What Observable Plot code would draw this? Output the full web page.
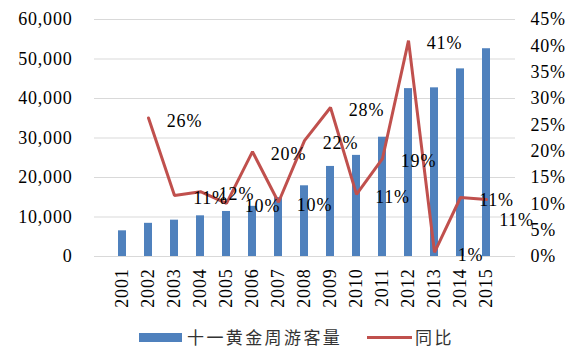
<!DOCTYPE html>
<html>
<head>
<meta charset="utf-8">
<script src="https://cdn.jsdelivr.net/npm/d3@7"></script>
<script src="https://cdn.jsdelivr.net/npm/@observablehq/plot@0.6"></script>
<style>
  html, body { margin: 0; padding: 0; background: #fff; }
  #wrap { width: 588px; position: relative; }
  #wrap svg, #wrap svg text { font-family: "Liberation Serif", "Times New Roman", serif !important; }
  #legend { position: relative; width: 588px; height: 37px; font-family: "Noto Sans CJK SC", sans-serif; font-size: 17px; letter-spacing: 2.4px; color: #333; }
  #legend .sw { position: absolute; }
  #legend .lb { position: absolute; top: 7px; line-height: 24px; white-space: nowrap; }
</style>
</head>
<body>
<div id="wrap"></div>
<div id="legend">
  <div class="sw" style="left:139px; top:15px; width:43px; height:9px; background:#4F81BD;"></div>
  <div class="lb" style="left:187px;">十一黄金周游客量</div>
  <div class="sw" style="left:367px; top:18px; width:45px; height:3px; background:#C0504D;"></div>
  <div class="lb" style="left:415px;">同比</div>
</div>
<script>
const years = ["2001","2002","2003","2004","2005","2006","2007","2008","2009","2010","2011","2012","2013","2014","2015"];
const visitors = [6500, 8400, 9200, 10300, 11400, 12700, 14900, 17900, 22800, 25600, 30200, 42500, 42700, 47500, 52600];
const growthYears = ["2002","2003","2004","2005","2006","2007","2008","2009","2010","2011","2012","2013","2014","2015"];
const growth = [26.3, 11.6, 12.3, 10.1, 19.9, 10.3, 22.0, 28.3, 11.8, 18.6, 41.0, 0.8, 11.2, 10.8];
const growthLabels = ["26%","11%","12%","10%","20%","10%","22%","28%","11%","19%","41%","1%","11%","11%"];
const leftTicks = [0, 10000, 20000, 30000, 40000, 50000, 60000];
const rightTicks = [0, 5, 10, 15, 20, 25, 30, 35, 40, 45];

const leftMax = 60000, rightMax = 45;
const k = leftMax / rightMax;

const barData = years.map((y, i) => ({year: y, value: visitors[i]}));
const lineData = growthYears.map((y, i) => ({year: y, pct: growth[i], label: growthLabels[i]}));

const chart = Plot.plot({
  width: 588,
  height: 318,
  marginTop: 19,
  marginBottom: 62,
  marginLeft: 94,
  marginRight: 73,
  x: {domain: years, padding: 0.68, label: null},
  y: {domain: [0, leftMax], label: null},
  style: {fontFamily: "'Liberation Serif', serif", fontSize: "18px", color: "#000", background: "#fff", letterSpacing: "0.8px"},
  marks: [
    Plot.gridY(leftTicks, {stroke: "#D9D9D9", strokeOpacity: 1}),
    Plot.barY(barData, {x: "year", y: "value", fill: "#4F81BD"}),
    Plot.line(lineData, {x: "year", y: d => d.pct * k, stroke: "#C0504D", strokeWidth: 3, strokeLinejoin: "miter"}),
    Plot.text(lineData.slice(0, -1), {x: "year", y: d => d.pct * k, text: "label", dx: 36, dy: 3, fill: "#000"}),
    Plot.text(lineData.slice(-1), {x: "year", y: d => d.pct * k, text: "label", dx: 30, dy: 21, fill: "#000"}),
    Plot.axisY(leftTicks, {anchor: "left", tickSize: 0, tickPadding: 22, tickFormat: d3.format(","), label: null}),
    Plot.axisY(rightTicks.map(p => p * k), {anchor: "right", tickSize: 0, tickPadding: 15, tickFormat: d => Math.round(d / k) + "%", label: null}),
    Plot.axisX({tickRotate: -90, tickSize: 0, tickPadding: 12, label: null})
  ]
});
document.getElementById("wrap").appendChild(chart);
</script>
</body>
</html>
